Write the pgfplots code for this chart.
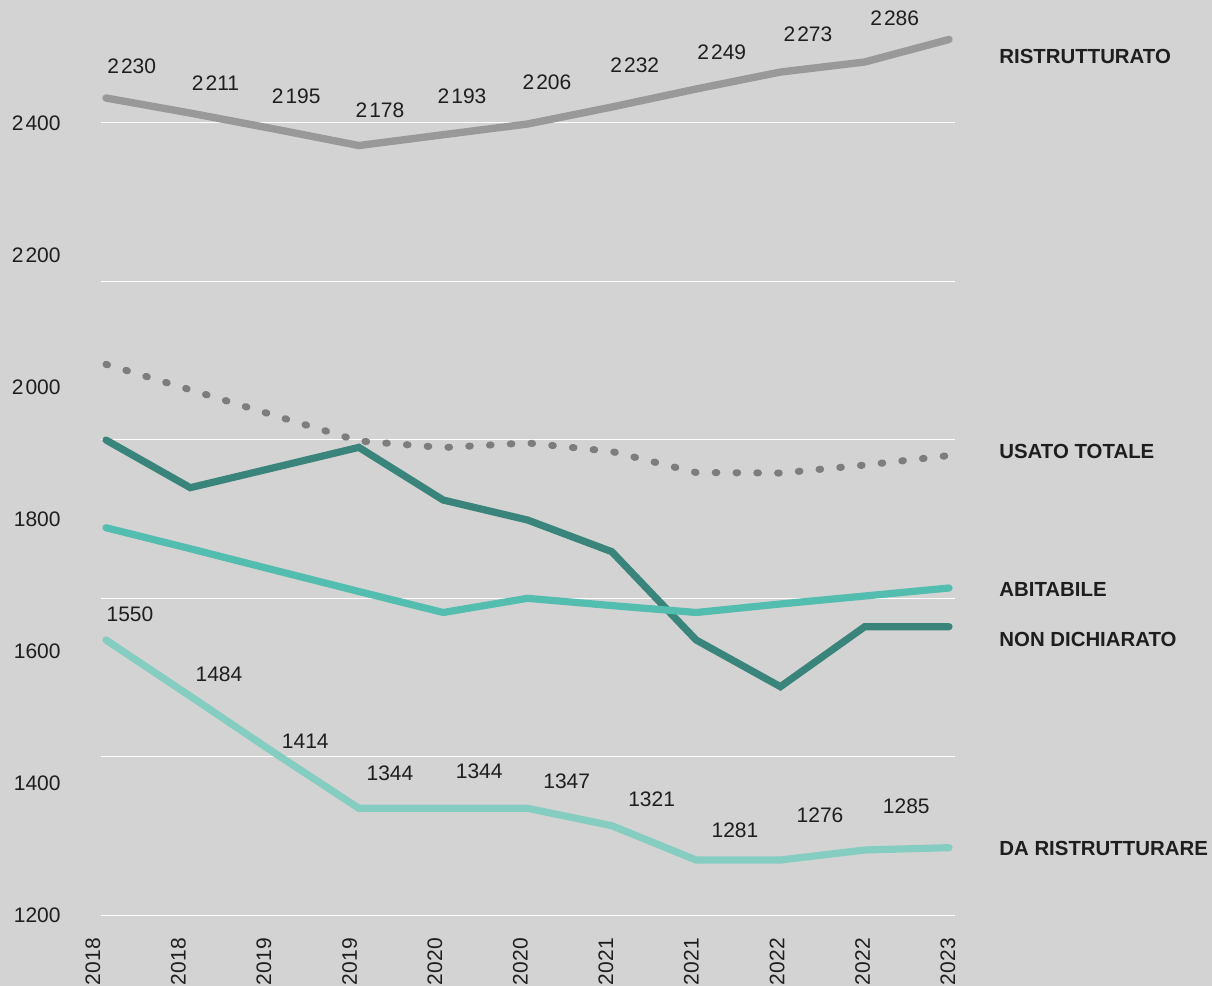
\documentclass[border=0pt]{standalone}
\usepackage{pgfplots}
\usepackage{pgfplotstable}
\pgfplotsset{compat=1.18}
\usepackage{fontspec}
\setmainfont{Liberation Sans}
\definecolor{bg}{RGB}{211,211,211}
\definecolor{rist}{RGB}{153,153,153}
\definecolor{usato}{RGB}{125,125,125}
\definecolor{nondich}{RGB}{58,133,123}
\definecolor{abit}{RGB}{83,189,176}
\definecolor{darist}{RGB}{133,205,193}
\definecolor{txt}{RGB}{30,30,30}
\newcommand\ts{\kern0.1em}
\newcommand\numfont{\fontsize{10.5}{12}\selectfont}
\newcommand\serfont{\fontsize{10.2}{12}\selectfont\bfseries}

\pgfplotstableread{
x rist usato nondich abit darist
0 2437.6 2034.3 1919.7 1786.9 1616.9
1 2414.8 1995.7 1847.5 1755.1 1531.8
2 2390.6 1956.8 1878.0 1722.6 1445.8
3 2365.6 1918.2 1908.6 1690.3 1362.0
4 2382.0 1908.3 1828.8 1658.5 1362.0
5 2398.2 1915.2 1798.6 1680.0 1362.0
6 2423.9 1902.3 1750.6 1669.0 1335.7
7 2451.2 1870.5 1616.9 1658.5 1283.7
8 2476.9 1869.7 1546.2 1671.4 1283.7
9 2492.1 1881.8 1637.0 1683.5 1298.9
10 2526.2 1896.2 1637.0 1695.6 1302.4
}\data

\pgfplotstableread{
x y lab
0.305 2486.3 2\ts230
1.299 2460.3 2\ts211
2.256 2439.5 2\ts195
3.250 2419.4 2\ts178
4.223 2439.5 2\ts193
5.231 2461.0 2\ts206
6.272 2486.8 2\ts232
7.304 2507.2 2\ts249
8.327 2533.7 2\ts273
9.356 2558.7 2\ts286
}\ristlab

\pgfplotstableread{
x y lab
0.285 1655.2 1550
1.340 1565.1 1484
2.364 1464.2 1414
3.369 1414.7 1344
4.427 1417.4 1344
5.465 1402.9 1347
6.473 1376.4 1321
7.461 1328.4 1281
8.470 1351.9 1276
9.493 1364.4 1285
}\daristlab

\begin{document}
\begin{tikzpicture}
\path[use as bounding box, fill=bg] (0,0) rectangle (606pt,493pt);
\begin{axis}[
  at={(50.5pt,35.35pt)}, anchor=south west,
  scale only axis, width=427pt, height=457.65pt,
  xmin=-0.059, xmax=10.071, ymin=1200, ymax=2586,
  clip=false,
  axis line style={draw=none},
  major tick length=0pt,
  xtick={-0.059,0.860,1.874,2.889,3.903,4.917,5.931,6.945,7.960,8.974,9.988},
  xticklabels={\raisebox{4pt}[\height][\depth]{2018},2018,2019,2019,2020,2020,2021,2021,2022,2022,2023},
  xticklabel style={font=\numfont, text=txt, yshift=-11.3pt, rotate=90, anchor=east, inner sep=0pt},
  ytick={1200,1400,1600,1800,2000,2200,2400},
  yticklabels={1200,1400,1600,1800,2\ts000,2\ts200,2\ts400},
  yticklabel style={font=\numfont, text=txt, anchor=east, inner sep=0pt, xshift=-20pt},
  extra y ticks={1200,1440,1680,1920,2160,2400},
  extra y tick labels={},
  extra y tick style={ymajorgrids=true, major tick length=0pt},
  major grid style={white, line width=0.65pt},
]
\addplot[rist, line width=3.7pt, line cap=round] table[x=x, y=rist] {\data};
\addplot[usato, line width=3.5pt, line cap=round, dash pattern=on 0.8pt off 9.6pt] table[x=x, y=usato] {\data};
\addplot[nondich, line width=3.6pt, line cap=round] table[x=x, y=nondich] {\data};
\addplot[abit, line width=3.6pt, line cap=round] table[x=x, y=abit] {\data};
\addplot[darist, line width=3.6pt, line cap=round] table[x=x, y=darist] {\data};

\addplot[draw=none, mark=none, point meta=explicit symbolic, nodes near coords,
  nodes near coords style={anchor=center, inner sep=0pt, font=\numfont, text=txt}]
  table[x=x, y=y, meta=lab] {\ristlab};
\addplot[draw=none, mark=none, point meta=explicit symbolic, nodes near coords,
  nodes near coords style={anchor=center, inner sep=0pt, font=\numfont, text=txt}]
  table[x=x, y=y, meta=lab] {\daristlab};

\node[anchor=west, inner sep=0pt, font=\serfont, text=txt] at (axis cs:10.593,2500.4) {RISTRUTTURATO};
\node[anchor=west, inner sep=0pt, font=\serfont, text=txt] at (axis cs:10.593,1902.3) {USATO TOTALE};
\node[anchor=west, inner sep=0pt, font=\serfont, text=txt] at (axis cs:10.593,1693.3) {ABITABILE};
\node[anchor=west, inner sep=0pt, font=\serfont, text=txt] at (axis cs:10.593,1618.4) {NON DICHIARATO};
\node[anchor=west, inner sep=0pt, font=\serfont, text=txt] at (axis cs:10.593,1300.7) {DA RISTRUTTURARE};
\end{axis}
\end{tikzpicture}
\end{document}
